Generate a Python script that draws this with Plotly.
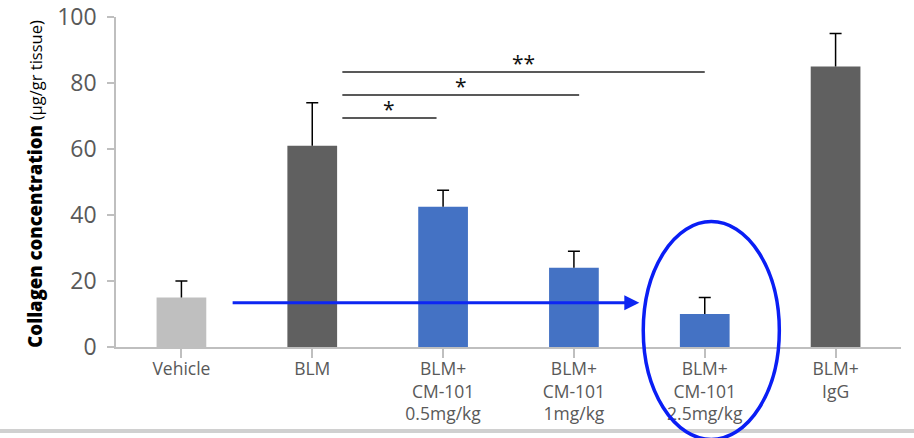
import plotly.graph_objects as go

# Collagen content per treatment group
categories = [
    "Vehicle",
    "BLM",
    "BLM+<br>CM-101<br>0.5mg/kg",
    "BLM+<br>CM-101<br>1mg/kg",
    "BLM+<br>CM-101<br>2.5mg/kg",
    "BLM+<br>IgG",
]
means = [15, 61, 42.5, 24, 10, 85]
errors = [5, 13, 5, 5, 5, 10]
bar_colors = ["#bfbfbf", "#606060", "#4472c4", "#4472c4", "#4472c4", "#606060"]

# Significance brackets (category-index positions) and labels
sig_x0 = [1.23, 1.23, 1.23]
sig_x1 = [1.95, 3.04, 4.0]
sig_y = [69.4, 76.4, 83.3]
sig_labels = ["*", "*", "**"]

# Trend arrow and highlight around the highest dose
arrow_x = [0.38, 3.5]
arrow_y = 13.4
highlight_idx = 4
highlight_y = [-28, 38]

Y_MAX = 100
N = len(categories)


def px_x(c):
    return (c + 0.5) / N


def px_y(v):
    return v / Y_MAX


fig = go.Figure()
# bars with upward error stems (no caps here)
fig.add_trace(go.Bar(
    x=list(range(N)),
    y=means,
    width=0.38,
    marker=dict(color=bar_colors, line=dict(width=0)),
    error_y=dict(type="data", array=errors, arrayminus=[0] * N, symmetric=False,
                 color="#000000", thickness=1.5, width=0),
    showlegend=False,
    hoverinfo="skip",
))
# caps at the top of each error stem
fig.add_trace(go.Scatter(
    x=list(range(N)),
    y=[m + e for m, e in zip(means, errors)],
    mode="markers",
    marker=dict(size=1, opacity=0),
    error_y=dict(type="data", array=[0] * N, symmetric=True,
                 color="#000000", thickness=1.5, width=6),
    showlegend=False,
    hoverinfo="skip",
))

shapes = []
# light rule along the bottom of the page
shapes.append(dict(type="rect", xref="paper", yref="paper",
                   x0=-0.16, x1=1.03, y0=-0.2606, y1=-0.2485,
                   fillcolor="#d0d0d0", line=dict(width=0), layer="below"))
for x0, x1, y in zip(sig_x0, sig_x1, sig_y):
    shapes.append(dict(type="line", xref="x", yref="y", x0=x0, x1=x1, y0=y, y1=y,
                       line=dict(color="#222222", width=1.5)))
# ellipse around the 2.5 mg/kg group
shapes.append(dict(type="circle", xref="paper", yref="paper",
                   x0=px_x(highlight_idx + 0.05 - 0.52), x1=px_x(highlight_idx + 0.05 + 0.52),
                   y0=px_y(highlight_y[0]), y1=px_y(highlight_y[1]),
                   line=dict(color="#0a1ef5", width=3.5)))

annotations = []
for x0, x1, y, lab in zip(sig_x0, sig_x1, sig_y, sig_labels):
    annotations.append(dict(x=(x0 + x1) / 2, y=y, xref="x", yref="y", text=lab,
                            showarrow=False, yanchor="bottom", yshift=-7,
                            font=dict(family="Open Sans", size=21, color="#111111")))
annotations.append(dict(x=arrow_x[1], y=arrow_y, ax=arrow_x[0], ay=arrow_y,
                        xref="x", yref="y", axref="x", ayref="y", text="",
                        showarrow=True, arrowhead=2, arrowsize=1, arrowwidth=3,
                        arrowcolor="#0d26f2"))
annotations.append(dict(
    x=-0.1032, y=0.495, xref="paper", yref="paper", textangle=-90,
    xanchor="center", yanchor="middle", showarrow=False,
    text='<span style="font-weight:900">Collagen concentration</span> '
         '<span style="font-size:16.5px">(µg/gr tissue)</span>',
    font=dict(family="Open Sans", size=18.5, color="#000000"),
))

fig.update_layout(
    width=914, height=438,
    margin=dict(l=116, r=13, t=17, b=91, autoexpand=False),
    paper_bgcolor="white", plot_bgcolor="white",
    shapes=shapes,
    annotations=annotations,
    xaxis=dict(
        tickmode="array", tickvals=list(range(N)), ticktext=categories,
        range=[-0.5, N - 0.5], automargin=False,
        showline=True, linecolor="#bfbfbf", linewidth=1.5,
        ticks="outside", ticklen=9, tickcolor="#bfbfbf", tickwidth=1.5,
        ticklabelstandoff=-4,
        showgrid=False, zeroline=False,
        tickfont=dict(family="Open Sans", size=17.5, color="#595959"),
    ),
    yaxis=dict(
        range=[0, Y_MAX], dtick=20, automargin=False,
        showline=True, linecolor="#bfbfbf", linewidth=1.5,
        ticks="outside", ticklen=7, tickcolor="#bfbfbf", tickwidth=1.5,
        ticklabelstandoff=6,
        showgrid=False, zeroline=False,
        tickfont=dict(family="Open Sans", size=23, color="#595959"),
    ),
)

fig.write_html("out.html")
